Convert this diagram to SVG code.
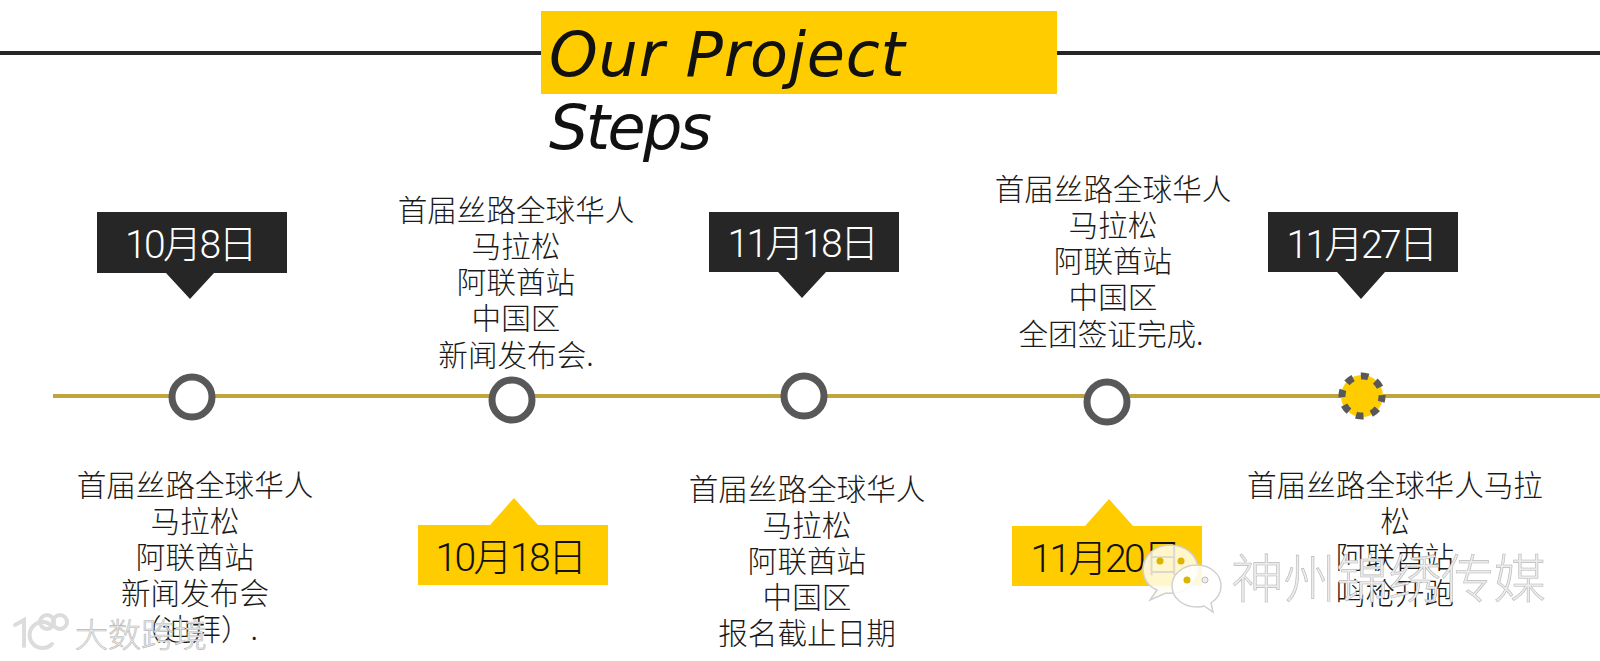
<svg xmlns="http://www.w3.org/2000/svg" width="1600" height="661" viewBox="0 0 1600 661">
<style>
.body{font-family:"Noto Sans CJK SC","Noto Sans",sans-serif;font-size:29.6px;font-weight:300;fill:#1a1a1a;text-anchor:middle}
.date{font-family:"Roboto","Noto Sans CJK SC",sans-serif;font-weight:300;font-size:39px;letter-spacing:-2.6px;text-anchor:middle}
.title{font-family:"DejaVu Sans",sans-serif;font-style:italic;font-size:62px;fill:#111}
.dark{fill:#262626}.yel{fill:#ffcc00}
.ring{fill:#fff;stroke:#58585a;stroke-width:7}
.wm{font-family:"Noto Sans CJK SC",sans-serif;font-weight:300;fill:#ececec;stroke:#b8b8b8;stroke-width:.6}
.logo{fill:none;stroke:#dcdcdc;stroke-width:4;stroke-linecap:round}
.bub{fill:#fffdf0;fill-opacity:.85;stroke:#d0d0d0;stroke-width:1.5}
</style>
<rect width="1600" height="661" fill="#fff"/>
<g id="connectors">
<line x1="0" y1="53" x2="541" y2="53" stroke="#262626" stroke-width="4"/>
<line x1="1057" y1="53" x2="1600" y2="53" stroke="#262626" stroke-width="4"/>
<line x1="53" y1="396" x2="1600" y2="396" stroke="#bfa53c" stroke-width="4"/>
</g>
<g id="title">
<rect x="541" y="11" width="516" height="83" class="yel"/>
<text class="title" x="549" y="76" letter-spacing=".8">Our Project</text>
<text class="title" x="549" y="149" letter-spacing="-2.6">Steps</text>
</g>
<g id="step1">
<path class="dark" d="M97 212H287V273H214L190 299L166 273H97Z"/>
<text class="date" x="190" y="258" fill="#fff">10月8日</text>
<circle class="ring" cx="192" cy="397" r="20"/>
<text class="body"><tspan x="195" y="496">首届丝路全球华人</tspan><tspan x="195" y="532">马拉松</tspan><tspan x="195" y="568">阿联酋站</tspan><tspan x="195" y="604">新闻发布会</tspan><tspan x="195" y="640">（迪拜）.</tspan></text>
</g>
<g id="step2">
<path class="yel" d="M418 525H490L514 498L538 525H608V585H418Z"/>
<text class="date" x="510" y="571" fill="#111">10月18日</text>
<circle class="ring" cx="512" cy="400" r="20"/>
<text class="body"><tspan x="516" y="221">首届丝路全球华人</tspan><tspan x="516" y="257">马拉松</tspan><tspan x="516" y="293">阿联酋站</tspan><tspan x="516" y="329">中国区</tspan><tspan x="516" y="366">新闻发布会.</tspan></text>
</g>
<g id="step3">
<path class="dark" d="M709 212H899V272H826L802 298L778 272H709Z"/>
<text class="date" x="802" y="257" fill="#fff">11月18日</text>
<circle class="ring" cx="804" cy="396" r="20"/>
<text class="body"><tspan x="807" y="500">首届丝路全球华人</tspan><tspan x="807" y="536">马拉松</tspan><tspan x="807" y="572">阿联酋站</tspan><tspan x="807" y="608">中国区</tspan><tspan x="807" y="644">报名截止日期</tspan></text>
</g>
<g id="step4">
<path class="yel" d="M1012 526H1085L1109 499L1133 526H1202V586H1012Z"/>
<text class="date" x="1105" y="572" fill="#111">11月20日</text>
<circle class="ring" cx="1107" cy="402" r="20"/>
<text class="body"><tspan x="1113" y="200">首届丝路全球华人</tspan><tspan x="1113" y="236">马拉松</tspan><tspan x="1113" y="272">阿联酋站</tspan><tspan x="1113" y="308">中国区</tspan><tspan x="1111" y="345">全团签证完成.</tspan></text>
</g>
<g id="step5">
<path class="dark" d="M1268 212H1458V272H1385L1361 299L1337 272H1268Z"/>
<text class="date" x="1361" y="258" fill="#fff">11月27日</text>
<circle cx="1362" cy="396" r="21" fill="#ffcc00"/>
<circle cx="1362" cy="396" r="20" fill="none" stroke="#58585a" stroke-width="7" stroke-dasharray="7.7 8" stroke-dashoffset="3.85" transform="rotate(6 1362 396)"/>
<text class="body"><tspan x="1395" y="496">首届丝路全球华人马拉</tspan><tspan x="1395" y="532">松</tspan><tspan x="1395" y="568">阿联酋站</tspan><tspan x="1395" y="604">鸣枪开跑</tspan></text>
</g>
<g id="watermarks">
<g class="logo"><path d="M15 625L24 620V646"/><path d="M52 626A13 13 0 1 0 52 644"/><circle cx="47" cy="622" r="7"/><circle cx="60" cy="622" r="7"/></g>
<text class="wm" x="75" y="647" font-size="33">大数跨境</text>
<path class="bub" d="M1170 545C1155 545 1143 556 1143 569C1143 579 1149 587 1157 590L1150 600L1166 593C1170 594 1175 593 1180 592C1190 589 1198 580 1198 569C1198 556 1186 545 1170 545Z"/>
<path class="bub" d="M1197 565C1183 565 1172 574 1172 586C1172 598 1183 607 1197 607C1199 607 1202 607 1204 606L1213 612L1211 603C1217 599 1221 593 1221 586C1221 574 1210 565 1197 565Z" style="fill:#fff"/>
<g fill="#d9b400"><circle cx="1160" cy="561" r="3.5"/><circle cx="1181" cy="561" r="3.5"/><circle cx="1187" cy="580" r="3.5"/></g>
<circle cx="1205" cy="580" r="3" fill="#eee" stroke="#bbb"/>
<text class="wm" x="1231" y="598" font-size="52.5">神州锦绣传媒</text>
</g>
</svg>
